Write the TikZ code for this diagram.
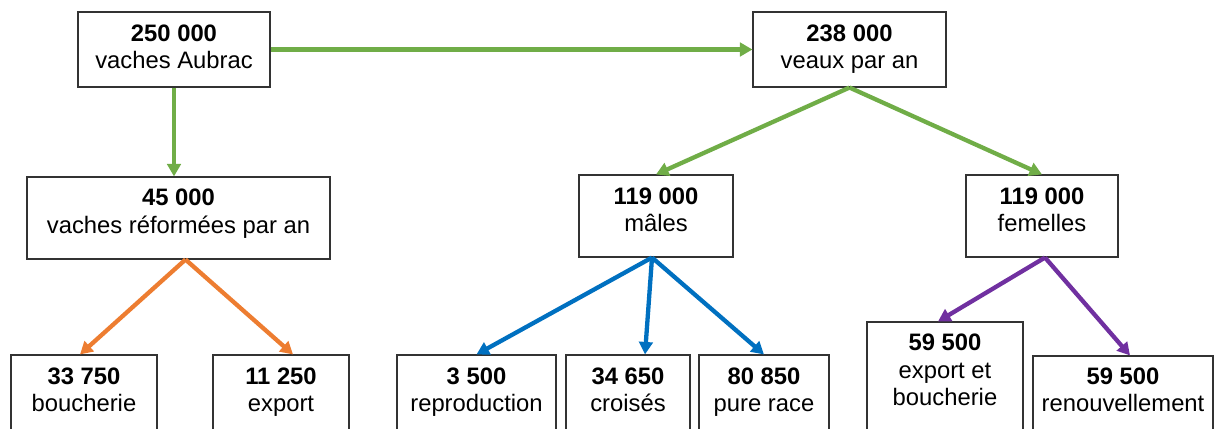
\documentclass[tikz,border=0pt]{standalone}
\usepackage{fontspec}
\setmainfont{Liberation Sans}
\usetikzlibrary{arrows.meta,calc}
\definecolor{flowgreen}{HTML}{70AD47}
\definecolor{floworange}{HTML}{ED7D31}
\definecolor{flowblue}{HTML}{0070C0}
\definecolor{flowpurple}{HTML}{7030A0}
\begin{document}
\begin{tikzpicture}[x=1pt,y=-1pt,
  box/.style={draw=black!80, line width=1.1pt, fill=white, inner sep=0pt},
  lbl/.style={align=center, inner sep=0pt, anchor=north,
              font=\fontsize{23.8}{27.2}\selectfont},
  flow/.style={line width=4.3pt, -{Triangle[length=12.5pt,width=13.5pt]}},
]
\useasboundingbox (0,0) rectangle (1217,428);
\clip (0,0) rectangle (1217,428);

% boxes
\node[box, minimum width=192pt, minimum height=75pt] (aubrac) at (174,49.5) {};
\node[box, minimum width=193pt, minimum height=75pt] (veaux) at (849.5,49.5) {};
\node[box, minimum width=303pt, minimum height=82pt] (reformees) at (178.5,218) {};
\node[box, minimum width=154pt, minimum height=82pt] (males) at (656,216) {};
\node[box, minimum width=152pt, minimum height=82pt] (femelles) at (1042,216) {};
\node[box, minimum width=146pt, minimum height=100pt] (boucherie) at (84,405) {};
\node[box, minimum width=136pt, minimum height=100pt] (export) at (281,405) {};
\node[box, minimum width=159pt, minimum height=100pt] (repro) at (476.5,405) {};
\node[box, minimum width=124pt, minimum height=100pt] (croises) at (628,405) {};
\node[box, minimum width=130pt, minimum height=100pt] (pure) at (764,405) {};
\node[box, minimum width=156pt, minimum height=120pt] (expbouch) at (945,382) {};
\node[box, minimum width=180pt, minimum height=100pt] (renouv) at (1123,406) {};

% texts
\node[lbl] (aubrac-t) at ([yshift=-12.8pt]aubrac.north) {\textbf{250 000}\\vaches Aubrac};
\node[lbl] (veaux-t) at ([yshift=-12.8pt]veaux.north) {\textbf{238 000}\\veaux par an};
\node[lbl] (reformees-t) at ([yshift=-12.6pt]reformees.north) {\textbf{45 000}\\vaches réformées par an};
\node[lbl] (males-t) at ([yshift=-12.8pt]males.north) {\textbf{119 000}\\mâles};
\node[lbl] (femelles-t) at ([yshift=-12.8pt]femelles.north) {\textbf{119 000}\\femelles};
\node[lbl] (boucherie-t) at ([yshift=-12.8pt]boucherie.north) {\textbf{33 750}\\boucherie};
\node[lbl] (export-t) at ([yshift=-12.8pt]export.north) {\textbf{11 250}\\export};
\node[lbl] (repro-t) at ([yshift=-12.8pt]repro.north) {\textbf{3 500}\\reproduction};
\node[lbl] (croises-t) at ([yshift=-12.8pt]croises.north) {\textbf{34 650}\\croisés};
\node[lbl] (pure-t) at ([yshift=-12.8pt]pure.north) {\textbf{80 850}\\pure race};
\node[lbl] (expbouch-t) at ([yshift=-12.6pt]expbouch.north) {\textbf{59 500}\\export et\\boucherie};
\node[lbl] (renouv-t) at ([yshift=-12.4pt]renouv.north) {\textbf{59 500}\\renouvellement};

% green flows
\draw[flow, flowgreen] (aubrac.east) -- (veaux.west);
\draw[flow, flowgreen] (aubrac.south) -- (aubrac.south |- reformees.north);
\draw[flow, flowgreen] (veaux.south) -- (males.north);
\draw[flow, flowgreen] (veaux.south) -- (femelles.north);

% orange flows
\draw[flow, floworange] ($(reformees.south)+(7,0)$) -- ($(boucherie.north)+(-4,0)$);
\draw[flow, floworange] ($(reformees.south)+(7,0)$) -- ($(export.north)+(12,0)$);

% blue flows
\draw[flow, flowblue] ($(males.south)+(-4,0)$) -- (repro.north);
\draw[flow, flowblue] ($(males.south)+(-4,0)$) -- ($(croises.north)+(17,0)$);
\draw[flow, flowblue] ($(males.south)+(-4,0)$) -- (pure.north);

% purple flows
\draw[flow, flowpurple] ($(femelles.south)+(3,0)$) -- ($(expbouch.north)+(-7,0)$);
\draw[flow, flowpurple] ($(femelles.south)+(3,0)$) -- ($(renouv.north)+(7,0)$);
\end{tikzpicture}
\end{document}
